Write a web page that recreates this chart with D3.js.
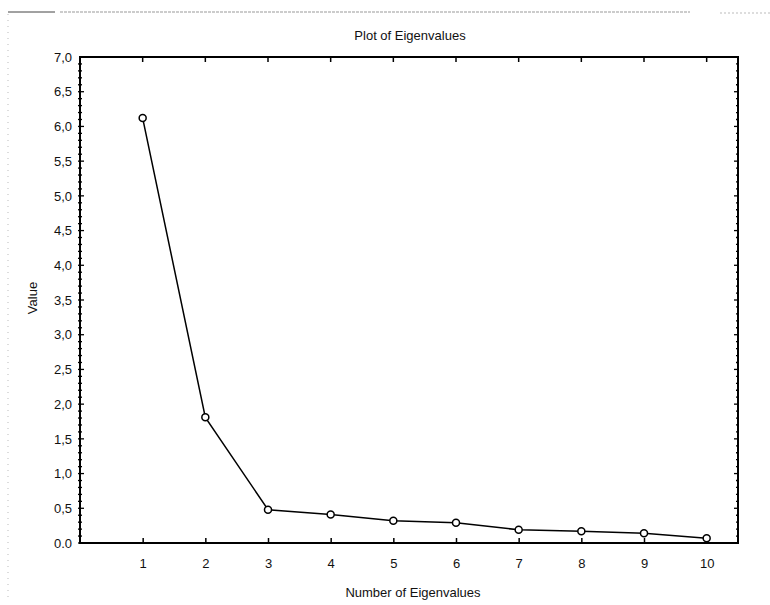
<!DOCTYPE html>
<html>
<head>
<meta charset="utf-8">
<script src="https://cdn.jsdelivr.net/npm/d3@7"></script>
<style>
  body { margin: 0; background: #fff; }
  text { font-family: "Liberation Sans", Arial, sans-serif; fill: #111; }
</style>
</head>
<body>
<div id="chart"></div>
<script>
const eigenNumbers = [1, 2, 3, 4, 5, 6, 7, 8, 9, 10];
const eigenValues = [6.12, 1.81, 0.48, 0.41, 0.32, 0.29, 0.19, 0.17, 0.14, 0.07];
const yTickValues = [0, 0.5, 1, 1.5, 2, 2.5, 3, 3.5, 4, 4.5, 5, 5.5, 6, 6.5, 7];
const yTickLabels = ['0.0', '0,5', '1,0', '1,5', '2,0', '2,5', '3,0', '3,5', '4,0', '4,5', '5,0', '5,5', '6,0', '6,5', '7,0'];

const WIDTH = 770;
const HEIGHT = 605;
const LEFT = 80, RIGHT = 738, TOP = 57, BOTTOM = 543;

const svg = d3.select('#chart').append('svg')
    .attr('width', WIDTH)
    .attr('height', HEIGHT);

// scan artifacts: page edge lines
svg.append('line')
    .attr('x1', 8).attr('x2', 55).attr('y1', 12).attr('y2', 12)
    .attr('stroke', '#444').attr('stroke-width', 1);
svg.append('line')
    .attr('x1', 60).attr('x2', 690).attr('y1', 12).attr('y2', 12)
    .attr('stroke', '#999').attr('stroke-width', 1).attr('stroke-dasharray', '3,1');
svg.append('line')
    .attr('x1', 720).attr('x2', 770).attr('y1', 13).attr('y2', 13)
    .attr('stroke', '#bbb').attr('stroke-width', 1).attr('stroke-dasharray', '2,2');
svg.append('line')
    .attr('x1', 8).attr('x2', 8).attr('y1', 14).attr('y2', 600)
    .attr('stroke', '#bbb').attr('stroke-width', 1).attr('stroke-dasharray', '1,5');

const x = d3.scaleLinear().domain([0, 10.5]).range([LEFT, RIGHT]);
const y = d3.scaleLinear().domain([0, 7]).range([BOTTOM, TOP]);

// frame
svg.append('rect')
    .attr('x', LEFT).attr('y', TOP)
    .attr('width', RIGHT - LEFT).attr('height', BOTTOM - TOP)
    .attr('fill', 'none').attr('stroke', '#000').attr('stroke-width', 2);

const minorTicks = d3.range(0, 70).map(i => i / 10);
const isMajor = d => Math.abs(d * 2 - Math.round(d * 2)) < 1e-6;

// left axis
const leftAxis = svg.append('g')
    .attr('transform', `translate(${LEFT},0)`)
    .call(d3.axisLeft(y).tickValues(yTickValues).tickSize(0).tickPadding(8)
        .tickFormat((d, i) => yTickLabels[i]));
leftAxis.select('.domain').remove();
leftAxis.selectAll('text').attr('font-size', 13);

svg.append('g').selectAll('line')
    .data(minorTicks)
    .join('line')
    .attr('x1', LEFT - 2)
    .attr('x2', d => LEFT + (isMajor(d) ? 4 : 2))
    .attr('y1', d => y(d)).attr('y2', d => y(d))
    .attr('stroke', '#000').attr('stroke-width', 1.3);

// right border ticks
svg.append('g').selectAll('line')
    .data(minorTicks)
    .join('line')
    .attr('x1', RIGHT)
    .attr('x2', d => RIGHT - (isMajor(d) ? 4 : 2))
    .attr('y1', d => y(d)).attr('y2', d => y(d))
    .attr('stroke', '#000').attr('stroke-width', 1.3);

// bottom axis
const bottomAxis = svg.append('g')
    .attr('transform', `translate(0,${BOTTOM})`)
    .call(d3.axisBottom(x).tickValues(eigenNumbers).tickSizeInner(-5).tickSizeOuter(0).tickPadding(16));
bottomAxis.select('.domain').remove();
bottomAxis.selectAll('line').attr('stroke-width', 1.5);
bottomAxis.selectAll('text').attr('font-size', 13);

// top border ticks
svg.append('g').selectAll('line')
    .data(eigenNumbers)
    .join('line')
    .attr('x1', d => x(d)).attr('x2', d => x(d))
    .attr('y1', TOP).attr('y2', TOP + 5)
    .attr('stroke', '#000').attr('stroke-width', 1.5);

// series
const line = d3.line()
    .x((d, i) => x(eigenNumbers[i]))
    .y(d => y(d));

svg.append('path')
    .datum(eigenValues)
    .attr('d', line)
    .attr('fill', 'none')
    .attr('stroke', '#000')
    .attr('stroke-width', 1.5);

svg.selectAll('.pt')
    .data(eigenValues)
    .join('circle')
    .attr('class', 'pt')
    .attr('cx', (d, i) => x(eigenNumbers[i]))
    .attr('cy', d => y(d))
    .attr('r', 3.5)
    .attr('fill', '#fff')
    .attr('stroke', '#000')
    .attr('stroke-width', 1.5);

// titles
svg.append('text')
    .attr('x', (LEFT + RIGHT) / 2 + 1).attr('y', 40)
    .attr('text-anchor', 'middle')
    .attr('font-size', 13)
    .text('Plot of Eigenvalues');

svg.append('text')
    .attr('x', (LEFT + RIGHT) / 2 + 4).attr('y', 597)
    .attr('text-anchor', 'middle')
    .attr('font-size', 13)
    .text('Number of Eigenvalues');

svg.append('text')
    .attr('transform', `translate(37,${(TOP + BOTTOM) / 2 - 2}) rotate(-90)`)
    .attr('text-anchor', 'middle')
    .attr('font-size', 13)
    .text('Value');
</script>
</body>
</html>
